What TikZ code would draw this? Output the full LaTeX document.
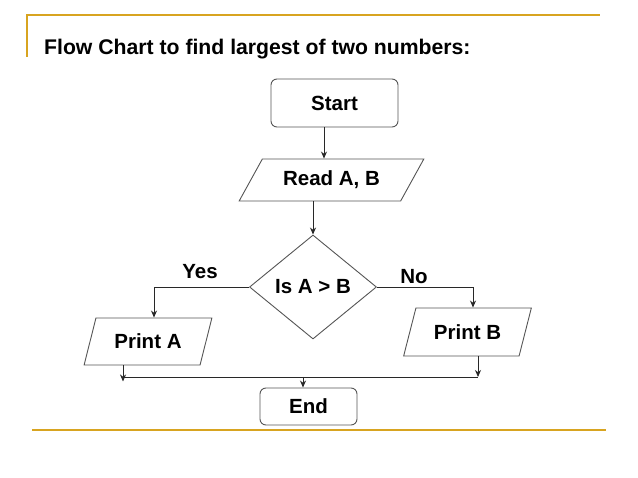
\documentclass[tikz,border=0pt]{standalone}
\usepackage{fontspec}
\setmainfont{Liberation Sans}
\usetikzlibrary{shapes.geometric,arrows.meta}
\definecolor{gold}{RGB}{216,164,32}
\definecolor{edge}{RGB}{85,85,85}
\definecolor{wire}{RGB}{40,40,40}
\tikzset{
  txt/.style={font=\fontsize{20.5}{24}\selectfont\bfseries, text=black},
  termbox/.style={txt, draw=edge, line width=0.9pt, rectangle, rounded corners=6pt, inner sep=0pt},
  iobox/.style={txt, draw=edge, line width=0.9pt, trapezium, trapezium stretches=true, inner sep=0pt},
  decbox/.style={txt, draw=edge, line width=0.9pt, diamond, aspect=1.22, inner sep=0pt},
  arr/.style={draw=wire, line width=0.8pt, -{Stealth[length=7pt,width=6pt]}},
  wireline/.style={draw=wire, line width=0.8pt},
  deco/.style={draw=gold, line width=1.6pt},
  lbl/.style={txt}
}
\begin{document}
\begin{tikzpicture}[x=1pt,y=-1pt]
\useasboundingbox (0,0) rectangle (638,478);
% decorative slide lines
\draw[deco] (27,57) -- (27,15) -- (600,15);
\draw[deco] (32,430) -- (606,430);
% title
\node[txt, font=\fontsize{21.2}{25}\selectfont\bfseries, anchor=base west, inner sep=0pt] (title) at (44,55) {Flow Chart to find largest of two numbers:};
% nodes
\node[termbox, minimum width=127pt, minimum height=48pt] (start) at (334.5,103) {Start};
\node[iobox, trapezium left angle=48, trapezium right angle=132, minimum width=185pt, minimum height=42pt] (read) at (331.5,180) {Read A, B};
\node[decbox, minimum width=127pt, minimum height=104pt] (dec) at (313,287) {Is A > B};
\node[iobox, trapezium left angle=63, trapezium right angle=117, minimum width=128pt, minimum height=47pt] (pa) at (148,341.5) {Print A};
\node[iobox, trapezium left angle=62, trapezium right angle=118, minimum width=128pt, minimum height=48pt] (pb) at (467.5,332) {Print B};
\node[termbox, minimum width=97pt, minimum height=37pt] (end) at (308.5,406.5) {End};
% labels
\node[lbl] (yes) at (200,272) {Yes};
\node[lbl] (no) at (414,277) {No};
% connectors
\coordinate (bus) at (0,377);
\draw[arr] ([xshift=-10.5pt]start.south) -- ([xshift=-10.5pt]start.south |- read.north);
\draw[arr] (read.south -| dec.north) -- (dec.north);
\draw[arr] (dec.west) -| ([xshift=6pt]pa.north);
\draw[arr] (dec.east) -| ([xshift=5.5pt]pb.north);
\coordinate (pao) at ([xshift=-25pt]pa.south);
\coordinate (pbo) at ([xshift=10.5pt]pb.south);
\draw[arr] (pao) -- ++(0,16);
\draw[wireline] (pao |- bus) -- (pbo |- bus);
\draw[arr] (pbo) -- (pbo |- bus);
\draw[arr] ([xshift=-5.5pt]end.north |- bus) -- ([xshift=-5.5pt]end.north);
\end{tikzpicture}
\end{document}
